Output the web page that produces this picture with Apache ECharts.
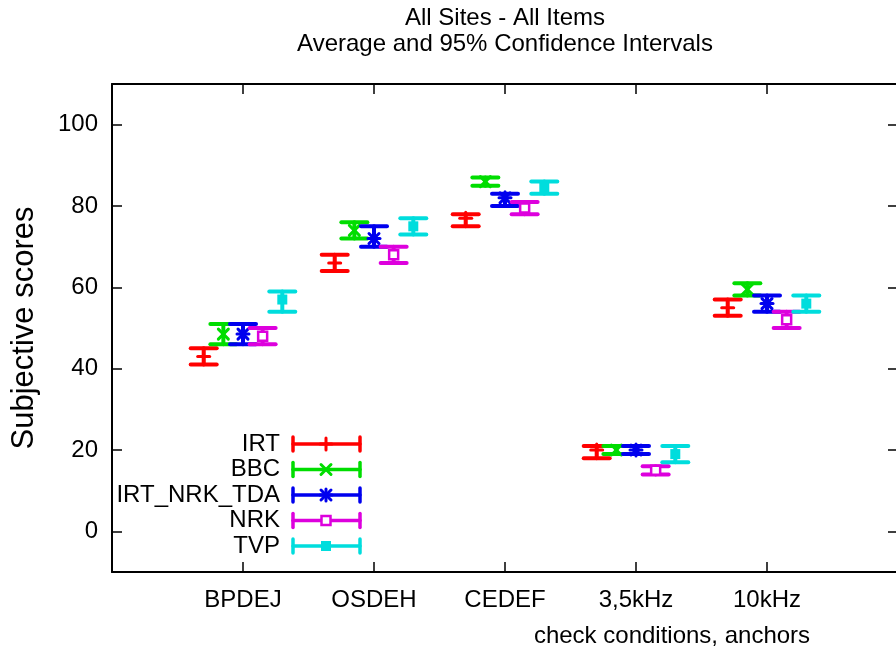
<!DOCTYPE html>
<html>
<head>
<meta charset="utf-8">
<script src="https://cdn.jsdelivr.net/npm/echarts@6/dist/echarts.min.js"></script>
<style>
  html, body { margin: 0; padding: 0; background: #fff; }
  #chart { width: 896px; height: 649px; }
</style>
</head>
<body>
<div id="chart"></div>
<script>
// 数据
const categories = ['BPDEJ', 'OSDEH', 'CEDEF', '3,5kHz', '10kHz'];
const seriesNames = ['IRT', 'BBC', 'IRT_NRK_TDA', 'NRK', 'TVP'];
const yTicks = [0, 20, 40, 60, 80, 100];

const irtMean = [43, 66, 77, 20, 55];
const irtLow = [41, 64, 75, 18, 53];
const irtHigh = [45, 68, 78, 21, 57];

const bbcMean = [48.5, 74, 86, 20, 59.5];
const bbcLow = [46, 72, 85, 19, 58];
const bbcHigh = [51, 76, 87, 21, 61];

const tdaMean = [48.5, 72, 82, 20, 56];
const tdaLow = [46, 70, 80, 19, 54];
const tdaHigh = [51, 75, 83, 21, 58];

const nrkMean = [48, 68, 79.5, 15, 52];
const nrkLow = [46, 66, 78, 14, 50];
const nrkHigh = [50, 70, 81, 16, 54];

const tvpMean = [57, 75, 84.5, 19, 56];
const tvpLow = [54, 73, 83, 17, 54];
const tvpHigh = [59, 77, 86, 21, 58];

const colors = ['#ff0000', '#00dd00', '#0000ee', '#dd00dd', '#00dddd'];
const FONT = "'Liberation Sans', Arial, sans-serif";

// 每组内的偏移
const offsets = [-0.3, -0.15, 0, 0.15, 0.3];
const allSets = [
  [irtMean, irtLow, irtHigh],
  [bbcMean, bbcLow, bbcHigh],
  [tdaMean, tdaLow, tdaHigh],
  [nrkMean, nrkLow, nrkHigh],
  [tvpMean, tvpLow, tvpHigh]
];

// 点的形状: + x * 空心方块 实心方块
function markerShapes(kind, cx, cy, color) {
  const s = 6;
  const ls = { stroke: color, lineWidth: 3, lineCap: 'round' };
  const plus = [
    { type: 'line', shape: { x1: cx - s, y1: cy, x2: cx + s, y2: cy }, style: ls },
    { type: 'line', shape: { x1: cx, y1: cy - s, x2: cx, y2: cy + s }, style: ls }
  ];
  const cross = [
    { type: 'line', shape: { x1: cx - s + 1, y1: cy - s + 1, x2: cx + s - 1, y2: cy + s - 1 }, style: ls },
    { type: 'line', shape: { x1: cx - s + 1, y1: cy + s - 1, x2: cx + s - 1, y2: cy - s + 1 }, style: ls }
  ];
  if (kind === 0) return plus;
  if (kind === 1) return cross;
  if (kind === 2) return plus.concat(cross);
  if (kind === 3) return [{ type: 'rect', shape: { x: cx - 4.5, y: cy - 4.5, width: 9, height: 9 }, style: { fill: '#fff', stroke: color, lineWidth: 2.5 } }];
  return [{ type: 'rect', shape: { x: cx - 5, y: cy - 5, width: 10, height: 10 }, style: { fill: color } }];
}

function errorBarSeries(idx) {
  const [mean, low, high] = allSets[idx];
  const data = categories.map((c, i) => [i + 1 + offsets[idx], mean[i], low[i], high[i]]);
  return {
    name: seriesNames[idx],
    type: 'custom',
    xAxisIndex: 0,
    yAxisIndex: 0,
    data: data,
    encode: { x: 0, y: [1, 2, 3] },
    renderItem: function (params, api) {
      const x = api.value(0);
      const pm = api.coord([x, api.value(1)]);
      const pl = api.coord([x, api.value(2)]);
      const ph = api.coord([x, api.value(3)]);
      const color = colors[idx];
      const st = { stroke: color, lineWidth: 4, lineCap: 'round' };
      const hw = 13;
      const children = [
        { type: 'line', shape: { x1: pl[0], y1: pl[1], x2: ph[0], y2: ph[1] }, style: st },
        { type: 'line', shape: { x1: pl[0] - hw, y1: pl[1], x2: pl[0] + hw, y2: pl[1] }, style: st },
        { type: 'line', shape: { x1: ph[0] - hw, y1: ph[1], x2: ph[0] + hw, y2: ph[1] }, style: st }
      ].concat(markerShapes(idx, pm[0], pm[1], color));
      return { type: 'group', children: children };
    }
  };
}

// 图例
function legendGraphics() {
  const items = [];
  seriesNames.forEach((name, i) => {
    const y = 444 + 25.5 * i;
    const color = colors[i];
    const st = { stroke: color, lineWidth: 3.5, lineCap: 'round' };
    items.push({ type: 'text', x: 280, y: y, style: { text: name, fill: '#000', font: '24px ' + FONT, textAlign: 'right', textVerticalAlign: 'middle' } });
    items.push({ type: 'line', shape: { x1: 293, y1: y, x2: 360, y2: y }, style: st });
    items.push({ type: 'line', shape: { x1: 293, y1: y - 7, x2: 293, y2: y + 7 }, style: st });
    items.push({ type: 'line', shape: { x1: 360, y1: y - 7, x2: 360, y2: y + 7 }, style: st });
    markerShapes(i, 326, y, color).forEach(m => items.push(m));
  });
  return items;
}

const chart = echarts.init(document.getElementById('chart'));
const axisLineStyle = { show: true, onZero: false, lineStyle: { color: '#000', width: 2 } };
const tickStyle = { show: true, inside: true, length: 10, lineStyle: { color: '#000', width: 1.5 } };

const option = {
  animation: false,
  backgroundColor: '#fff',
  grid: { left: 112, top: 84, width: 786, height: 488, outerBoundsMode: 'none', containLabel: false },
  xAxis: [
    {
      type: 'value', min: 0, max: 6, interval: 1, position: 'bottom',
      axisLine: axisLineStyle, axisTick: tickStyle, splitLine: { show: false },
      axisLabel: {
        color: '#000', fontSize: 24, fontFamily: FONT, margin: 16,
        formatter: v => categories[v - 1] || ''
      }
    },
    {
      type: 'value', min: 0, max: 6, interval: 1, position: 'top',
      axisLine: axisLineStyle, axisTick: tickStyle, splitLine: { show: false },
      axisLabel: { show: false }
    }
  ],
  yAxis: [
    {
      type: 'value', min: -10, max: 110, position: 'left',
      axisLine: axisLineStyle,
      axisTick: Object.assign({ customValues: yTicks }, tickStyle),
      splitLine: { show: false },
      axisLabel: { color: '#000', fontSize: 24, fontFamily: FONT, margin: 14, customValues: yTicks },
      name: 'Subjective scores', nameLocation: 'middle', nameGap: 72, nameRotate: 90,
      nameTextStyle: { color: '#000', fontSize: 31, fontFamily: FONT }
    },
    {
      type: 'value', min: -10, max: 110, position: 'right',
      axisLine: axisLineStyle,
      axisTick: Object.assign({ customValues: yTicks }, tickStyle),
      splitLine: { show: false },
      axisLabel: { show: false, customValues: yTicks }
    }
  ],
  graphic: [
    { type: 'text', x: 505, y: 18, style: { text: 'All Sites - All Items', fill: '#000', font: '24px ' + FONT, textAlign: 'center', textVerticalAlign: 'middle' } },
    { type: 'text', x: 505, y: 44, style: { text: 'Average and 95% Confidence Intervals', fill: '#000', font: '24px ' + FONT, textAlign: 'center', textVerticalAlign: 'middle' } },
    { type: 'text', x: 672, y: 636, style: { text: 'check conditions, anchors', fill: '#000', font: '24px ' + FONT, textAlign: 'center', textVerticalAlign: 'middle' } }
  ].concat(legendGraphics()),
  series: seriesNames.map((n, i) => errorBarSeries(i))
};
chart.setOption(option);
</script>
</body>
</html>
